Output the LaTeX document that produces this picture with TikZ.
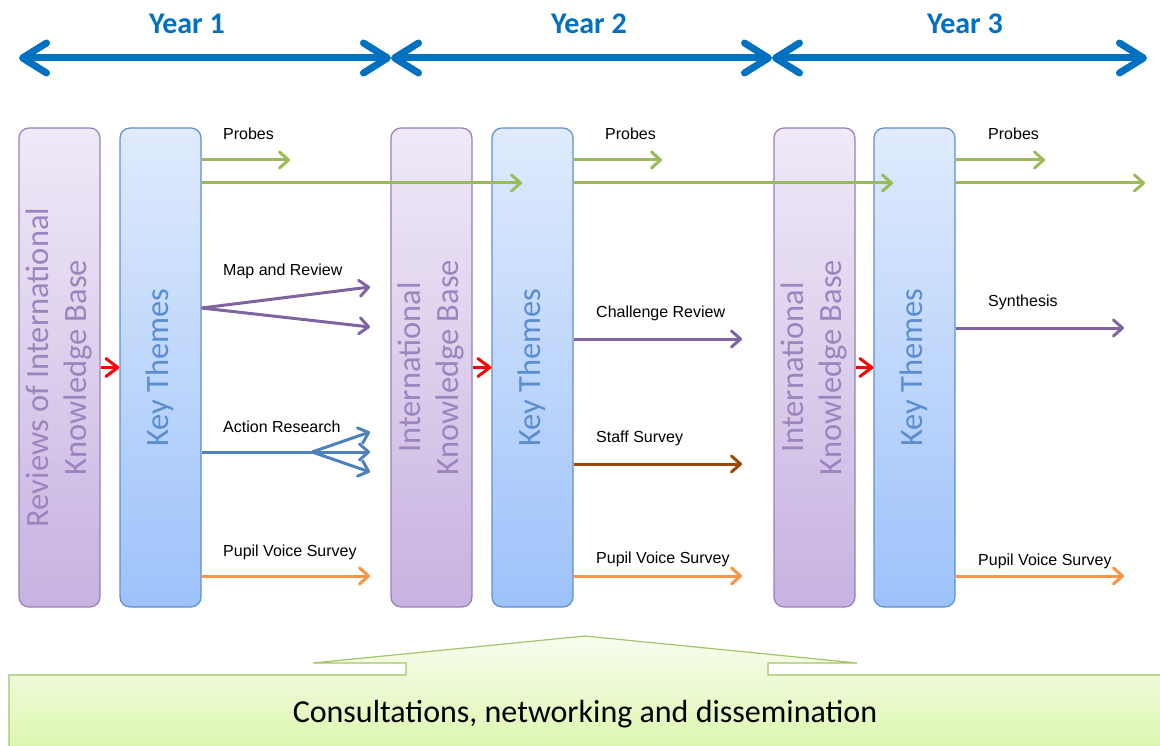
\documentclass[tikz,border=0pt]{standalone}
\usepackage{fontspec}
\setmainfont{Carlito}
\newfontfamily\arialfont{Liberation Sans}
\usetikzlibrary{arrows.meta,positioning}

\definecolor{yrblue}{HTML}{0070C0}
\definecolor{rkline}{HTML}{9880B6}
\definecolor{rktop}{HTML}{F0EAF7}
\definecolor{rkbot}{HTML}{C7B2E1}
\definecolor{rktext}{HTML}{9C84BE}
\definecolor{ktline}{HTML}{5F8FD0}
\definecolor{kttop}{HTML}{E0EBFD}
\definecolor{ktbot}{HTML}{9DC2FA}
\definecolor{kttext}{HTML}{5A8ED0}
\definecolor{grn}{HTML}{9BBB59}
\definecolor{prp}{HTML}{8064A2}
\definecolor{blu}{HTML}{4F81BD}
\definecolor{org}{HTML}{F79646}
\definecolor{brn}{HTML}{984807}
\definecolor{bnline}{HTML}{A4C46A}
\definecolor{bntop}{HTML}{F8FCEF}
\definecolor{bnbot}{HTML}{D6F6A2}

\newcommand\vtext[1]{\rotatebox{90}{\begin{tabular}{@{}c@{}}#1\end{tabular}}}

\begin{document}
\begin{tikzpicture}[x=1pt, y=-1pt,
    yr/.style={font=\fontsize{30}{36}\selectfont\bfseries, text=yrblue},
    yrarr/.style={{Straight Barb[length=24pt,width=30pt,round]}-{Straight Barb[length=24pt,width=30pt,round]}, line width=7pt, yrblue},
    rkb/.style={draw=rkline, line width=1.2pt, rounded corners=10pt, minimum width=81pt, minimum height=479pt, top color=rktop, bottom color=rkbot, text=rktext, inner sep=0pt, font=\fontsize{32.5}{38}\selectfont},
    ktb/.style={rkb, draw=ktline, top color=kttop, bottom color=ktbot, text=kttext},
    arr/.style={-{Straight Barb[length=9pt,width=16pt,round]}, line width=3pt},
    redarr/.style={-{Straight Barb[length=12pt,width=18pt,round]}, line width=3pt, red},
    lbl/.style={anchor=base west, inner sep=0pt, font=\arialfont\fontsize{16}{19}\selectfont}
]
\useasboundingbox (0,0) rectangle (1160,746);

% time line
\coordinate (t0) at (19,58);
\coordinate (t1) at (391,58);
\coordinate (t2) at (772,58);
\coordinate (t3) at (1147,58);
\foreach \a/\b in {t0/t1,t1/t2,t2/t3}
    \draw[yrarr] (\a) -- (\b);
\node[yr] (yr1) at (187,24) {Year 1};
\node[yr] (yr2) at (589,24) {Year 2};
\node[yr] (yr3) at (965,24) {Year 3};

% columns
\node[rkb] (rk1) at (59.5,367.5) {\vtext{Reviews of International\\Knowledge Base}};
\node[ktb] (kt1) at (160.5,367.5) {\vtext{Key Themes}};
\node[rkb] (rk2) at (431.5,367.5) {\vtext{International\\Knowledge Base}};
\node[ktb] (kt2) at (532.5,367.5) {\vtext{Key Themes}};
\node[rkb] (rk3) at (814.5,367.5) {\vtext{International\\Knowledge Base}};
\node[ktb] (kt3) at (914.5,367.5) {\vtext{Key Themes}};

\draw[redarr] (rk1.east) -- (kt1.west);
\draw[redarr] (rk2.east) -- (kt2.west);
\draw[redarr] (rk3.east) -- (kt3.west);

% year 1
\coordinate (pa1) at (290,160);
\coordinate (pb1) at (522,183);
\coordinate (mr) at (201,308);
\coordinate (mr1) at (370,287);
\coordinate (mr2) at (370,327);
\coordinate (ar) at (312,452);
\coordinate (ar1) at (370,432);
\coordinate (ar2) at (370,452);
\coordinate (ar3) at (370,472);
\coordinate (pv1) at (370,576);
\draw[arr,grn] (kt1.east |- pa1) -- (pa1);
\draw[arr,grn] (kt1.east |- pb1) -- (pb1);
\draw[arr,prp] (kt1.east |- mr) -- (mr1);
\draw[arr,prp] (kt1.east |- mr) -- (mr2);
\draw[arr,blu] (kt1.east |- ar) -- (ar2);
\draw[arr,blu] (ar) -- (ar1);
\draw[arr,blu] (ar) -- (ar3);
\draw[arr,org] (kt1.east |- pv1) -- (pv1);
\node[lbl] (lp1) at (223,140) {Probes};
\node[lbl] (lm1) at (223,276) {Map and Review};
\node[lbl] (la1) at (223,432) {Action Research};
\node[lbl] (lv1) at (223,556) {Pupil Voice Survey};

% year 2
\coordinate (pa2) at (662,160);
\coordinate (pb2) at (893,183);
\coordinate (cr2) at (742,339);
\coordinate (ss2) at (742,464);
\coordinate (pv2) at (742,576);
\draw[arr,grn] (kt2.east |- pa2) -- (pa2);
\draw[arr,grn] (kt2.east |- pb2) -- (pb2);
\draw[arr,prp] (kt2.east |- cr2) -- (cr2);
\draw[arr,brn] (kt2.east |- ss2) -- (ss2);
\draw[arr,org] (kt2.east |- pv2) -- (pv2);
\node[lbl] (lp2) at (605,140) {Probes};
\node[lbl] (lc2) at (596,317) {Challenge Review};
\node[lbl] (ls2) at (596,442) {Staff Survey};
\node[lbl] (lv2) at (596,563) {Pupil Voice Survey};

% year 3
\coordinate (pa3) at (1045,160);
\coordinate (pb3) at (1145,183);
\coordinate (sy3) at (1124,328);
\coordinate (pv3) at (1124,576);
\draw[arr,grn] (kt3.east |- pa3) -- (pa3);
\draw[arr,grn] (kt3.east |- pb3) -- (pb3);
\draw[arr,prp] (kt3.east |- sy3) -- (sy3);
\draw[arr,org] (kt3.east |- pv3) -- (pv3);
\node[lbl] (lp3) at (988,140) {Probes};
\node[lbl] (ly3) at (988,306) {Synthesis};
\node[lbl] (lv3) at (978,565) {Pupil Voice Survey};

% banner
\draw[draw=bnline, line width=1.2pt, top color=bntop, bottom color=bnbot]
    (9,770) -- (9,675) -- (406,675) -- (406,663) -- (313,663) -- (585,636)
    -- (857,663) -- (768,663) -- (768,675) -- (1180,675) -- (1180,770) -- cycle;
\node[font=\fontsize{32}{38}\selectfont] (cnd) at (585,714) {Consultations, networking and dissemination};
\end{tikzpicture}
\end{document}
